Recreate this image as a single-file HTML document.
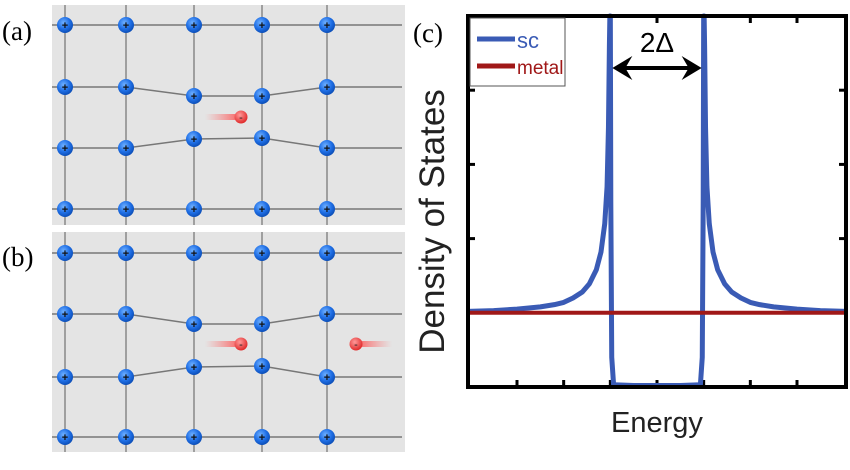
<!DOCTYPE html>
<html><head><meta charset="utf-8"><style>
body{margin:0;background:#fff;width:850px;height:470px;overflow:hidden}
svg{display:block}
</style></head><body>
<svg id="s" width="850" height="470" xmlns="http://www.w3.org/2000/svg" font-family="Liberation Sans, sans-serif">
<defs>
<radialGradient id="ion" cx="40%" cy="35%" r="65%"><stop offset="0" stop-color="#6fb0ff"/><stop offset="0.6" stop-color="#1f6fe6"/><stop offset="1" stop-color="#0d4fb8"/></radialGradient>
<radialGradient id="ele" cx="40%" cy="35%" r="65%"><stop offset="0" stop-color="#ff9a9a"/><stop offset="1" stop-color="#e02a2a"/></radialGradient>
<linearGradient id="tailL" x1="0" x2="1"><stop offset="0" stop-color="#ff6a6a" stop-opacity="0"/><stop offset="1" stop-color="#ff4a4a" stop-opacity="0.7"/></linearGradient>
<linearGradient id="tailR" x1="1" x2="0"><stop offset="0" stop-color="#ff6a6a" stop-opacity="0"/><stop offset="1" stop-color="#ff4a4a" stop-opacity="0.7"/></linearGradient>
</defs>
<g id="lattice"></g>
<text x="2" y="40" font-family="Liberation Serif, serif" font-size="27">(a)</text>
<text x="2" y="266" font-family="Liberation Serif, serif" font-size="27">(b)</text>
<text x="413" y="42" font-family="Liberation Serif, serif" font-size="27">(c)</text>
<g id="chart"></g>
</svg>
<script>
// ---- chart data ----
const energies = [-4.05,-3.5,-3,-2.5,-2.2,-2,-1.8,-1.6,-1.45,-1.3,-1.2,-1.12,-1.07,-1.04,-1.02,-1.01,-1.0,-0.99,-0.97,-0.93,-0.5,0,0.5,0.93,0.97,0.99,1.0,1.01,1.02,1.04,1.07,1.12,1.2,1.3,1.45,1.6,1.8,2,2.2,2.5,3,3.5,4.05];
const scDOS = [1.02,1.03,1.05,1.08,1.11,1.14,1.2,1.28,1.39,1.58,1.82,2.2,2.7,3.5,4.6,5.3,5.3,2.5,0.4,0.03,0.02,0.02,0.02,0.03,0.4,2.5,5.3,5.3,4.6,3.5,2.7,2.2,1.82,1.58,1.39,1.28,1.2,1.14,1.11,1.08,1.05,1.03,1.02];
const metalDOS = [1,1];
const metalE = [-4.05,4.05];
const xTicks = [-3,-2,-1,0,1,2,3];
const yTicks = [1,2,3,4];

const NS="http://www.w3.org/2000/svg";
function mk(t,a,p){const e=document.createElementNS(NS,t);for(const k in a)e.setAttribute(k,a[k]);(p||document.getElementById('s')).appendChild(e);return e;}
const L=468,R=846,T=16,B=387;
const xs=e=>L+(e+4.05)/8.1*(R-L);
const ys=v=>B-v/5*(B-T);
const ch=document.getElementById('chart');
const frame=mk('rect',{x:L,y:T,width:R-L,height:B-T,fill:'#fff',stroke:'none'},ch);

xTicks.forEach(t=>{const a=mk('line',{x1:xs(t),x2:xs(t),y1:B,y2:B-7,stroke:'#000','stroke-width':3},ch);
const b=mk('line',{x1:xs(t),x2:xs(t),y1:T,y2:T+7,stroke:'#000','stroke-width':3},ch);});
yTicks.forEach(t=>{const a=mk('line',{x1:L,x2:L+7,y1:ys(t),y2:ys(t),stroke:'#000','stroke-width':3},ch);
const b=mk('line',{x1:R,x2:R-7,y1:ys(t),y2:ys(t),stroke:'#000','stroke-width':3},ch);});
const sc=mk('polyline',{points:energies.map((e,i)=>xs(e)+','+Math.max(T,ys(scDOS[i]))).join(' '),fill:'none',stroke:'#3a5bb5','stroke-width':5,'stroke-linejoin':'round'},ch);

const me=mk('polyline',{points:metalE.map((e,i)=>xs(e)+','+ys(metalDOS[i])).join(' '),fill:'none',stroke:'#a01818','stroke-width':4},ch);

const fr=mk('rect',{x:L,y:T,width:R-L,height:B-T,fill:'none',stroke:'#000','stroke-width':4},ch);

// legend
const lg=mk('g',{},ch);
mk('rect',{x:470,y:18,width:95,height:68,fill:'#fff',stroke:'#555','stroke-width':1},lg);
const l1=mk('line',{x1:477,x2:515,y1:39,y2:39,stroke:'#3a5bb5','stroke-width':5},lg);
const t1=mk('text',{x:517,y:48,'font-size':22,fill:'#3a5bb5'},lg);t1.textContent='sc';
const l2=mk('line',{x1:477,x2:515,y1:66,y2:66,stroke:'#a01818','stroke-width':5},lg);
const t2=mk('text',{x:517,y:74,'font-size':19,fill:'#a01818'},lg);t2.textContent='metal';
// gap arrow
const ar=mk('g',{},ch);
mk('line',{x1:xs(-1)+10,x2:xs(1)-10,y1:68,y2:68,stroke:'#000','stroke-width':4},ar);
mk('polygon',{points:`${xs(-1)+2},68 ${xs(-1)+22},56 ${xs(-1)+15},68 ${xs(-1)+22},80`,fill:'#000'},ar);
mk('polygon',{points:`${xs(1)-2},68 ${xs(1)-22},56 ${xs(1)-15},68 ${xs(1)-22},80`,fill:'#000'},ar);
const gt=mk('text',{x:xs(0),y:52,'font-size':28,'text-anchor':'middle'},ch);gt.textContent='2Δ';
const xt=mk('text',{x:xs(0),y:432,'font-size':29,'text-anchor':'middle',fill:'#222'},ch);xt.textContent='Energy';
const yt=mk('text',{x:0,y:0,'font-size':35,'text-anchor':'middle',fill:'#222',transform:`translate(444,${(T+B)/2+20}) rotate(-90)`},ch);yt.textContent='Density of States';

// ---- lattice panels ----
const cols=[65,126,194,262,327];
function panel(y0,h,rows,electrons,name){
  const g=mk('g',{},document.getElementById('lattice'));
  
  mk('rect',{x:52,y:y0,width:353,height:h,fill:'#e4e4e4'},g);
  cols.forEach((cx,i)=>mk('line',{x1:cx,x2:cx,y1:y0,y2:y0+h,stroke:'#888','stroke-width':1.5},g));
  rows.forEach(r=>{
    const pts=['52,'+r[0]].concat(cols.map((c,i)=>c+','+r[i])).concat(['402,'+r[4]]);
    mk('polyline',{points:pts.join(' '),fill:'none',stroke:'#777','stroke-width':1.5},g);
  });
  rows.forEach(r=>cols.forEach((c,i)=>{
    const ion=mk('g',{},g);
    
    
    mk('circle',{cx:c,cy:r[i],r:8,fill:'url(#ion)'},ion);
    const t=mk('text',{x:c,y:r[i]+4,'font-size':11,'text-anchor':'middle','font-weight':'bold',fill:'#111'},ion);t.textContent='+';
  }));
  electrons.forEach(e=>{
    const el=mk('g',{},g);
    
    
    if(e[2]<0) mk('rect',{x:e[0]-36,y:e[1]-3,width:30,height:6,fill:'url(#tailL)'},el);
    else mk('rect',{x:e[0]+6,y:e[1]-3,width:30,height:6,fill:'url(#tailR)'},el);
    mk('circle',{cx:e[0],cy:e[1],r:6.5,fill:'url(#ele)'},el);
    const t=mk('text',{x:e[0],y:e[1]+4,'font-size':11,'text-anchor':'middle',fill:'#222'},el);t.textContent='-';
  });
}
panel(5,220,[[25,25,25,25,25],[87,87,96,96,87],[148,148,139,138,148],[209,209,209,209,209]],[[241,117,-1]],'lattice-panel-a');
panel(232,220,[[253,253,253,253,253],[314,314,324,324,314],[377,377,367,366,377],[437,437,437,437,437]],[[241,344,-1],[356,344,1]],'lattice-panel-b');
</script>
</body></html>
